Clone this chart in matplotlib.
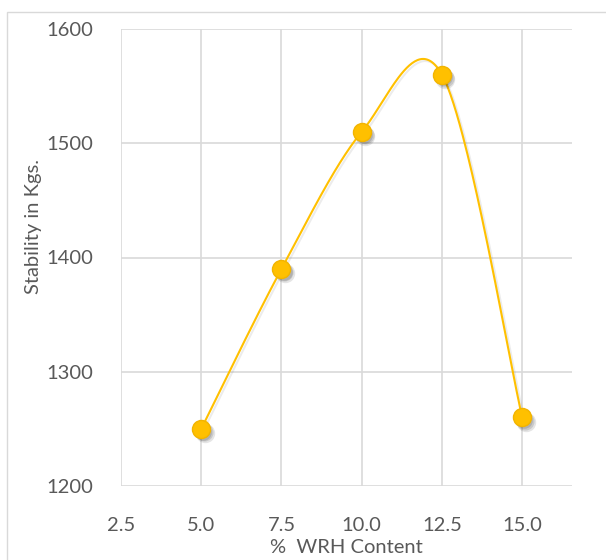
import numpy as np
import matplotlib
matplotlib.use("Agg")
import matplotlib.pyplot as plt
from matplotlib.patches import Rectangle
import matplotlib.patheffects as pe

# Data
wrh_content = [5.0, 7.5, 10.0, 12.5, 15.0]
stability = [1250, 1390, 1510, 1560, 1260]
x_ticks = [2.5, 5.0, 7.5, 10.0, 12.5, 15.0]
y_ticks = [1200, 1300, 1400, 1500, 1600]
x_label = "%  WRH Content"
y_label = "Stability in Kgs."

plt.rcParams['font.family'] = ['Lato', 'DejaVu Sans']

W, H = 606, 560
fig = plt.figure(figsize=(W / 100, H / 100), dpi=100)

# chart border
fig.add_artist(Rectangle((7 / W, -0.05), 1.2, (H - 12) / H + 0.05,
                         transform=fig.transFigure, fill=False,
                         edgecolor='#D9D9D9', linewidth=1.0))

ax = fig.add_axes([121 / W, 1 - 486 / H, (572 - 121) / W, (486 - 29) / H])
ax.set_xlim(2.5, 16.55)
ax.set_ylim(1200, 1600)
ax.set_xticks(x_ticks)
ax.set_xticklabels([f"{v:.1f}" for v in x_ticks])
ax.set_yticks(y_ticks)
ax.set_yticklabels([str(v) for v in y_ticks])
ax.grid(True, color='#D9D9D9', linewidth=1.2)
ax.set_axisbelow(True)
for s in ax.spines.values():
    s.set_visible(False)
ax.tick_params(length=0, labelsize=14.5, colors='#595959')
ax.tick_params(axis='y', pad=20)
ax.tick_params(axis='x', pad=22)


def smooth(xs, ys, n=60):
    # Excel-style smoothed line (Catmull-Rom Bezier, tension 1/6)
    P = np.column_stack([xs, ys]).astype(float)
    P = np.vstack([P[0], P, P[-1]])
    out = []
    for i in range(1, len(P) - 2):
        p0, p1, p2, p3 = P[i - 1], P[i], P[i + 1], P[i + 2]
        c1 = p1 + (p2 - p0) / 6
        c2 = p2 - (p3 - p1) / 6
        t = np.linspace(0, 1, n)[:, None]
        seg = ((1 - t) ** 3) * p1 + 3 * ((1 - t) ** 2) * t * c1 + 3 * (1 - t) * t ** 2 * c2 + t ** 3 * p2
        out.append(seg)
    out = np.vstack(out)
    return out[:, 0], out[:, 1]


sx, sy = smooth(wrh_content, stability)
ax.plot(sx, sy, color='#FFC000', linewidth=1.5, zorder=3,
        path_effects=[pe.SimpleLineShadow(offset=(1.5, -1.5), shadow_color='gray', alpha=0.15), pe.Normal()])

# marker shadows (soft, layered)
for k, (off, a) in enumerate([((2.5, -3.0), 0.10), ((2.0, -2.5), 0.12), ((1.5, -2.0), 0.12)]):
    ax.plot(wrh_content, stability, linestyle='none', marker='o', markersize=14 - k,
            markerfacecolor='black', markeredgecolor='none', alpha=a, zorder=3.5,
            path_effects=[pe.Stroke(offset=off), pe.Normal()] if False else None)
    ax.lines[-1].set_transform(ax.transData + matplotlib.transforms.ScaledTranslation(off[0] / 72, off[1] / 72, fig.dpi_scale_trans))

ax.plot(wrh_content, stability, linestyle='none', marker='o', markersize=13,
        markerfacecolor='#FFC000', markeredgecolor='#F2B400', markeredgewidth=1, zorder=4)

ax.set_xlabel(x_label, fontsize=14.5, color='#595959', labelpad=4)
ax.set_ylabel(y_label, fontsize=14.5, color='#595959')
ax.yaxis.set_label_coords((42 - 121) / (572 - 121), (486 - 226) / (486 - 29))

fig.savefig("out.png", dpi=100)
